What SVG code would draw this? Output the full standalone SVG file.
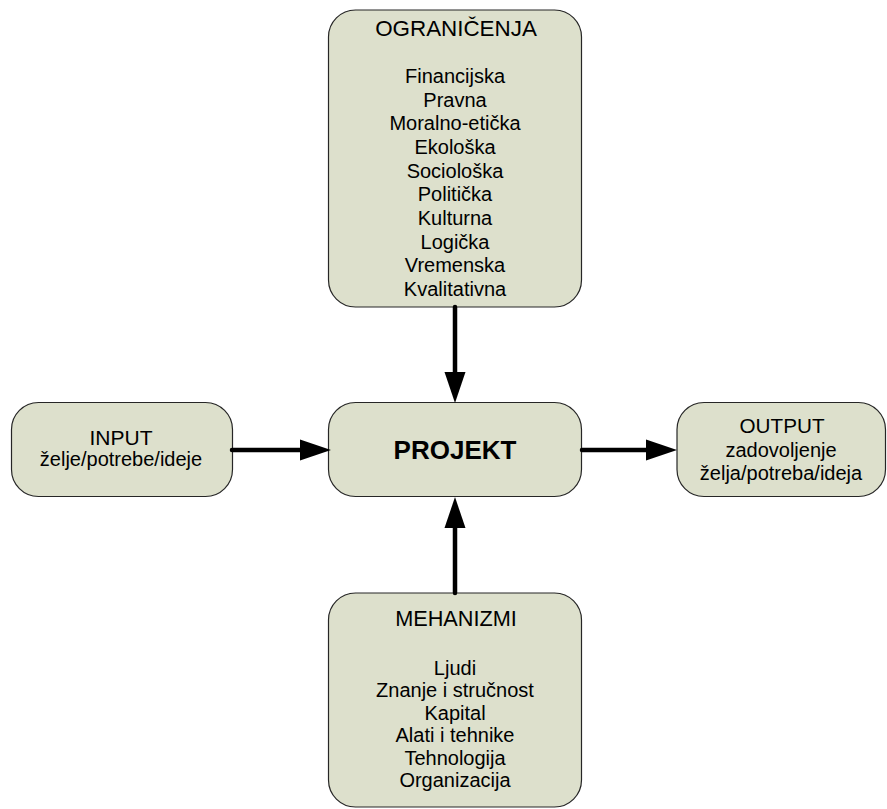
<svg xmlns="http://www.w3.org/2000/svg" width="887" height="809" viewBox="0 0 887 809">
<style>
.box{fill:#dde0cc;stroke:#262626;stroke-width:1.2}
.t{font-family:"Liberation Sans",Arial,sans-serif;font-size:20px;fill:#000;text-anchor:middle}
.b{font-weight:bold;font-size:26px}
.c{stroke:#000;stroke-width:4.5;stroke-linecap:round;fill:none}
</style>
<defs>
<marker id="ah" markerUnits="userSpaceOnUse" markerWidth="32" markerHeight="22" refX="0" refY="11" orient="auto" overflow="visible">
<path d="M0,0.5 L31,11 L0,21.5 z" fill="#000"/>
</marker>
</defs>
<rect x="0" y="0" width="887" height="809" fill="#fff"/>
<g id="ogranicenja">
<rect class="box" x="328.5" y="10" width="253" height="297" rx="27"/>
<text class="t" x="456" y="36" style="font-size:22.4px">OGRANIČENJA</text>
<text class="t" x="455" y="83">Financijska</text>
<text class="t" x="455" y="106.7">Pravna</text>
<text class="t" x="455" y="130.3">Moralno-etička</text>
<text class="t" x="455" y="154">Ekološka</text>
<text class="t" x="455" y="177.7">Sociološka</text>
<text class="t" x="455" y="201.3">Politička</text>
<text class="t" x="455" y="225">Kulturna</text>
<text class="t" x="455" y="248.7">Logička</text>
<text class="t" x="455" y="272.3">Vremenska</text>
<text class="t" x="455" y="296">Kvalitativna</text>
</g>
<g id="input">
<rect class="box" x="11.5" y="402.5" width="221" height="94" rx="27"/>
<text class="t" x="121" y="445" style="font-size:21px">INPUT</text>
<text class="t" x="121" y="466">želje/potrebe/ideje</text>
</g>
<g id="projekt">
<rect class="box" x="328.5" y="402.5" width="253" height="94" rx="27"/>
<text class="t b" x="455" y="459">PROJEKT</text>
</g>
<g id="output">
<rect class="box" x="677" y="402.5" width="208.5" height="94" rx="27"/>
<text class="t" x="782" y="433" style="font-size:20.7px">OUTPUT</text>
<text class="t" x="781" y="457">zadovoljenje</text>
<text class="t" x="781" y="480">želja/potreba/ideja</text>
</g>
<g id="mehanizmi">
<rect class="box" x="328.5" y="593" width="253" height="214" rx="27"/>
<text class="t" x="456" y="626" style="font-size:21.7px">MEHANIZMI</text>
<text class="t" x="455" y="675">Ljudi</text>
<text class="t" x="455" y="697.4">Znanje i stručnost</text>
<text class="t" x="455" y="719.8">Kapital</text>
<text class="t" x="455" y="742.2">Alati i tehnike</text>
<text class="t" x="455" y="764.6">Tehnologija</text>
<text class="t" x="455" y="787">Organizacija</text>
</g>
<g id="connectors">
<path class="c" d="M232,450 L300,450" marker-end="url(#ah)"/>
<path class="c" d="M582,450 L646,450" marker-end="url(#ah)"/>
<path class="c" d="M455,307 L455,372" marker-end="url(#ah)"/>
<path class="c" d="M455,593 L455,528" marker-end="url(#ah)"/>
</g>
</svg>
